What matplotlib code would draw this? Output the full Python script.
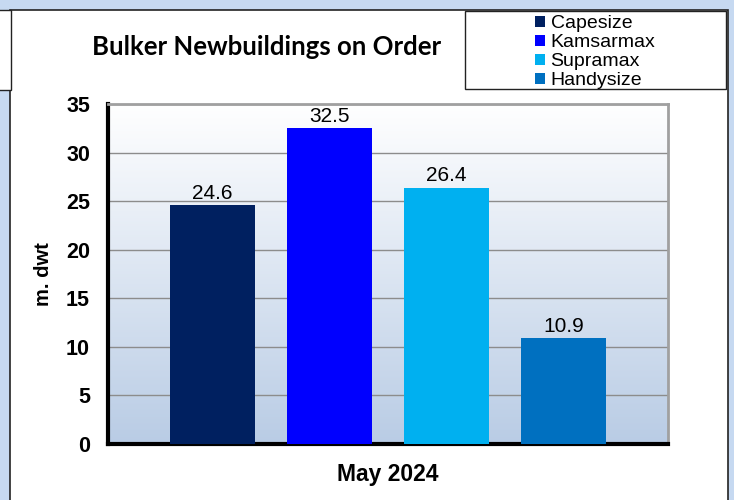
import numpy as np
import matplotlib.pyplot as plt
from matplotlib.patches import Rectangle
from matplotlib.colors import LinearSegmentedColormap

plt.rcParams['font.family'] = ['Liberation Sans', 'DejaVu Sans']

categories = ['Capesize', 'Kamsarmax', 'Supramax', 'Handysize']
values = [24.6, 32.5, 26.4, 10.9]
colors = ['#002060', '#0000ff', '#00b0f0', '#0070c0']
yticks = [0, 5, 10, 15, 20, 25, 30, 35]

fig = plt.figure(figsize=(7.34, 5.0), dpi=100)
fig.patch.set_facecolor('#c6d9f1')

# white panel, small box on the left, legend frame
fig.patches.append(Rectangle((10 / 734, -0.01), 718 / 734, 0.01 + 490 / 500, transform=fig.transFigure,
                             facecolor='white', edgecolor='#222222', lw=1.2, zorder=-2))
fig.patches.append(Rectangle((-0.01, 410 / 500), 18 / 734, 80 / 500, transform=fig.transFigure,
                             facecolor='white', edgecolor='#222222', lw=1.0, zorder=-2))
fig.patches.append(Rectangle((465 / 734, 1 - 89 / 500), 261 / 734, 78 / 500, transform=fig.transFigure,
                             facecolor='white', edgecolor='#222222', lw=1.0, zorder=-1))

ax = fig.add_axes([108 / 734, 1 - 444 / 500, 560 / 734, 340 / 500])

# gradient background
cmap = LinearSegmentedColormap.from_list('bg', ['#ffffff', '#b9cce5'])
grad = np.linspace(0, 1, 256).reshape(-1, 1)
ax.imshow(grad, cmap=cmap, aspect='auto', extent=[-0.889, 3.893, 0, 35], origin='upper', zorder=0)

x = np.arange(len(categories))
bars = ax.bar(x, values, width=0.727, color=colors, zorder=3, label=categories)
for xi, v in zip(x, values):
    ax.text(xi, v + 0.25, f'{v}', ha='center', va='bottom', fontsize=15, zorder=4)

ax.set_xlim(-0.889, 3.893)
ax.set_ylim(0, 35)
ax.set_yticks(yticks)
ax.set_yticklabels([str(t) for t in yticks], fontsize=15.5, fontweight='bold')
ax.set_xticks([])
ax.tick_params(axis='y', length=0, pad=13)
ax.yaxis.grid(True, color='#8c8c8c', lw=1.0, zorder=1)
ax.set_axisbelow(True)

for side in ['left', 'bottom']:
    ax.spines[side].set_linewidth(3)
    ax.spines[side].set_color('black')
for side in ['top', 'right']:
    ax.spines[side].set_linewidth(2)
    ax.spines[side].set_color('#a0a0a0')

ax.set_ylabel('m. dwt', fontsize=14.5, fontweight='bold', labelpad=9)
ax.set_xlabel('May 2024', fontsize=16.5, fontweight='bold', labelpad=14)

fig.text(267 / 734, 1 - 47 / 500, 'Bulker Newbuildings on Order', fontsize=18.5,
         fontweight='bold', ha='center', va='center', family=['Lato', 'DejaVu Sans'])

leg = fig.legend(handles=list(bars), labels=categories, loc='upper left',
                 bbox_to_anchor=(535 / 734, 1 - 15 / 500), fontsize=14,
                 handlelength=0.5, handleheight=0.5, handletextpad=0.3,
                 labelspacing=0.11, borderpad=0.0, frameon=False,
                 borderaxespad=0)

plt.savefig('out.png', dpi=100, facecolor=fig.get_facecolor())
